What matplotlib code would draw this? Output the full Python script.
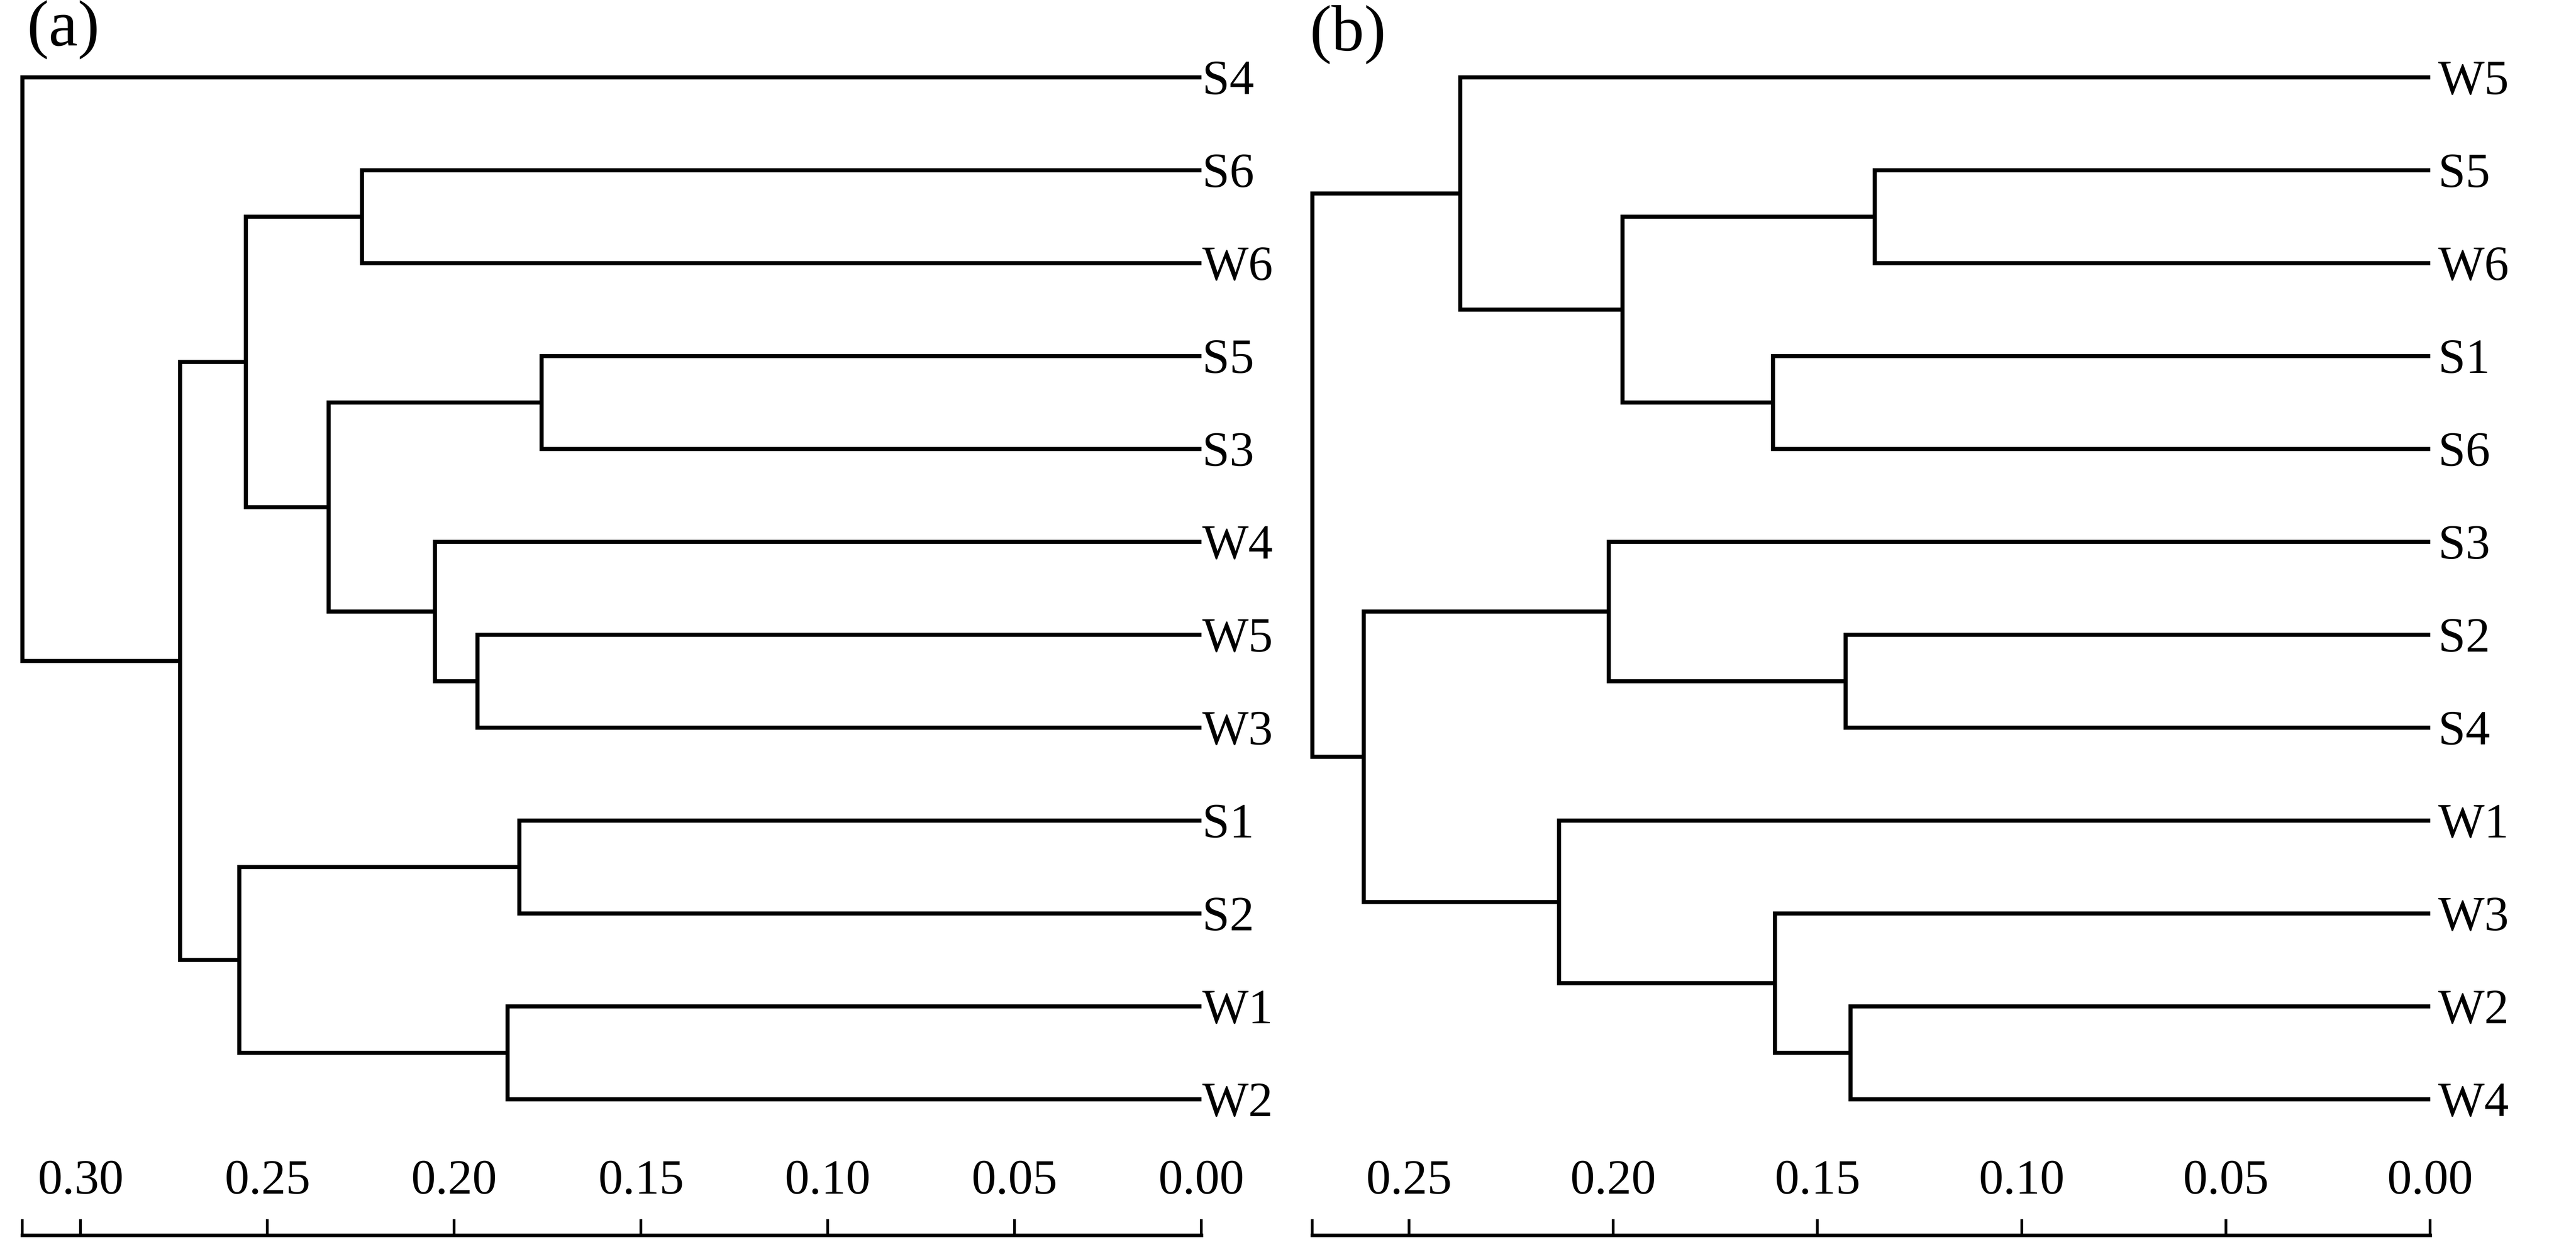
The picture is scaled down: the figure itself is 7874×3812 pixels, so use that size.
"""
plot.py - hierarchical clustering dendrograms of S/W samples, panels (a) and (b)
=================================================================================
Root on the left, leaves on the right at distance 0.00.
The distance scale sits under each tree: ticks point up, labels above the ticks.
"""

import matplotlib
matplotlib.use("Agg")
import matplotlib.pyplot as plt

plt.rcParams["font.family"] = ["Liberation Serif", "DejaVu Serif"]

# ----------------------------------------------------------
# data: leaves from top to bottom, merges as (child, child) with heights
# new cluster ids continue after the leaf ids (like a linkage matrix)
# ----------------------------------------------------------
leaves_a = ["S4", "S6", "W6", "S5", "S3", "W4", "W5", "W3", "S1", "S2", "W1", "W2"]
merge_pairs_a = [
    (3, 4),    # 12  S5 + S3
    (8, 9),    # 13  S1 + S2
    (10, 11),  # 14  W1 + W2
    (6, 7),    # 15  W5 + W3
    (5, 15),   # 16  W4 + 15
    (1, 2),    # 17  S6 + W6
    (12, 16),  # 18
    (17, 18),  # 19
    (13, 14),  # 20
    (19, 20),  # 21
    (0, 21),   # 22  root
]
merge_heights_a = [0.1766, 0.1826, 0.1857, 0.1938, 0.2052, 0.2247,
                   0.2336, 0.2558, 0.2575, 0.2734, 0.3156]
ticks_a = [0.30, 0.25, 0.20, 0.15, 0.10, 0.05, 0.00]

leaves_b = ["W5", "S5", "W6", "S1", "S6", "S3", "S2", "S4", "W1", "W3", "W2", "W4"]
merge_pairs_b = [
    (1, 2),    # 12  S5 + W6
    (10, 11),  # 13  W2 + W4
    (6, 7),    # 14  S2 + S4
    (9, 13),   # 15  W3 + 13
    (3, 4),    # 16  S1 + S6
    (12, 16),  # 17
    (5, 14),   # 18  S3 + 14
    (8, 15),   # 19  W1 + 15
    (0, 17),   # 20  W5 + 17
    (18, 19),  # 21
    (20, 21),  # 22  root
]
merge_heights_b = [0.1360, 0.1419, 0.1431, 0.1604, 0.1609, 0.1978,
                   0.2011, 0.2133, 0.2375, 0.2611, 0.2737]
ticks_b = [0.25, 0.20, 0.15, 0.10, 0.05, 0.00]

# ----------------------------------------------------------
# layout (figure pixels at 600 dpi)
# ----------------------------------------------------------
W_PX, H_PX = 7874, 3812
DPI        = 600
TOP_LEAF   = 236     # y of first leaf
LAST_LEAF  = 3360    # y of last leaf
AXIS_Y     = 3776    # y of the scale line
TICK_PX    = 49      # tick length


def draw_dendrogram(
    ax       : plt.Axes,
    leaves   : list[str],
    pairs    : list[tuple],
    heights  : list[float],
    label_pad: float,
) -> None:
    """Draw ⊐-shaped links for each merge; leaf rows are 0..n-1 top to bottom."""
    n   = len(leaves)
    pos = {i: (0.0, float(i)) for i in range(n)}
    for k, ((a, b), h) in enumerate(zip(pairs, heights)):
        xa, ya = pos[a]
        xb, yb = pos[b]
        ax.plot([xa, h, h, xb], [ya, ya, yb, yb],
                color="black", lw=1.5, clip_on=False,
                solid_joinstyle="miter", solid_capstyle="butt")
        pos[n + k] = (h, (ya + yb) / 2)

    root_h = heights[-1]
    ax.set_xlim(root_h, 0.0)
    ax.set_ylim(n - 1, 0)
    ax.set_xticks([])
    ax.yaxis.tick_right()
    ax.set_yticks(range(n))
    ax.set_yticklabels(leaves)
    ax.tick_params(axis="y", length=0, pad=label_pad, labelsize=18)
    for spine in ax.spines.values():
        spine.set_visible(False)
    ax.patch.set_alpha(0)


def draw_scale(
    sax   : plt.Axes,
    root_h: float,
    ticks : list[float],
) -> None:
    """Distance scale: bottom line, ticks pointing up, labels above ticks."""
    sax.set_xlim(root_h, 0.0)
    sax.set_ylim(0, 1)
    sax.set_yticks([])
    sax.set_xticks([root_h] + ticks)
    sax.set_xticklabels([""] + [f"{t:.2f}" for t in ticks])
    sax.tick_params(axis="x", direction="in", length=TICK_PX / DPI * 72,
                    width=1.0, bottom=True, top=False,
                    labelbottom=False, labeltop=True, labelsize=18, pad=5.5)
    for s in ("top", "left", "right"):
        sax.spines[s].set_visible(False)
    sax.spines["bottom"].set_linewidth(1.3)
    sax.patch.set_alpha(0)


fig = plt.figure(figsize=(W_PX / DPI, H_PX / DPI), dpi=DPI)

panels = [
    ("(a)", 68,   3672, leaves_a, merge_pairs_a, merge_heights_a, ticks_a, 0.4, 82,   0),
    ("(b)", 4011, 7428, leaves_b, merge_pairs_b, merge_heights_b, ticks_b, 3.0, 4003, 15),
]

for tag, x0, x1, leaves, pairs, heights, ticks, lpad, tag_x, tag_y in panels:
    left  = x0 / W_PX
    width = (x1 - x0) / W_PX

    # dendrogram
    ax = fig.add_axes([left, 1 - LAST_LEAF / H_PX, width,
                       (LAST_LEAF - TOP_LEAF) / H_PX])
    draw_dendrogram(ax, leaves, pairs, heights, lpad)

    # distance scale
    sax = fig.add_axes([left, 1 - AXIS_Y / H_PX, width, TICK_PX / H_PX])
    draw_scale(sax, heights[-1], ticks)

    # panel tag
    fig.text(tag_x / W_PX, 1 - tag_y / H_PX, tag,
             ha="left", va="top", fontsize=24)

fig.savefig("out.png", dpi=DPI, facecolor="white")
